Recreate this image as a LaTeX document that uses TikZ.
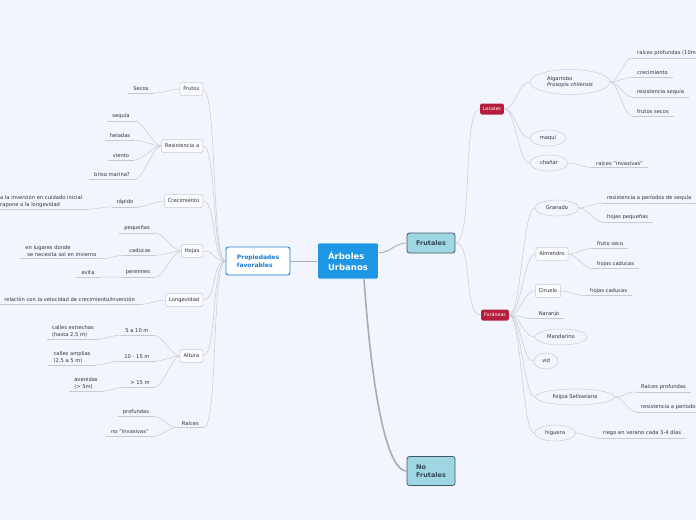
\documentclass[tikz,border=0pt]{standalone}
\usepackage{fontspec}
\setmainfont{DejaVu Sans}
\usetikzlibrary{shapes.geometric}
\definecolor{bgc}{HTML}{F3F5FE}
\definecolor{rootc}{HTML}{1E96E6}
\definecolor{propc}{HTML}{1C7BD8}
\definecolor{frc}{HTML}{9ED6E3}
\definecolor{frd}{HTML}{3E5866}
\definecolor{catc}{HTML}{B51E3A}
\definecolor{linec}{HTML}{C9C9CE}
\definecolor{trunkc}{HTML}{ABABAF}
\definecolor{txtc}{HTML}{333333}
\definecolor{subd}{HTML}{CACAD2}

\begin{document}
\begin{tikzpicture}[x=1pt, y=-1pt,
    root/.style={fill=rootc, draw=white, line width=0.6pt, rounded corners=2pt, text=white,
                 font=\fontsize{8.5}{10.5}\selectfont\bfseries, align=left,
                 minimum width=61pt, minimum height=36pt},
    prop/.style={fill=white, draw=propc, line width=0.9pt, rounded corners=2.5pt, text=propc,
                 font=\fontsize{6}{8}\selectfont\bfseries, align=left,
                 minimum width=64pt, minimum height=28pt},
    frbox/.style={fill=frc, draw=frd, line width=0.8pt, rounded corners=2.5pt, text=frd!80!black,
                 font=\fontsize{6.5}{8.5}\selectfont\bfseries, align=left,
                 minimum width=48pt, minimum height=20pt},
    cat/.style={fill=catc, rounded corners=1.5pt, text=white, font=\fontsize{4.8}{5}\selectfont,
                minimum height=11pt, inner xsep=3pt, inner ysep=1pt},
    sub/.style={fill=white!60!bgc, draw=subd, line width=0.5pt, rounded corners=1.5pt, text=txtc,
                font=\fontsize{5.2}{6}\selectfont, minimum height=13pt, inner xsep=3.5pt},
    fruit/.style={ellipse, draw=subd, line width=0.5pt, fill=bgc, text=txtc, align=left,
                  font=\fontsize{5.2}{6.5}\selectfont, inner sep=0pt, minimum height=16pt},
    conn/.style={draw=linec, line width=0.5pt},
    trunk/.style={draw=trunkc, line width=0.9pt},
    leaf/.style={text=txtc, font=\fontsize{5.2}{7}\selectfont, align=left, inner xsep=5pt, inner ysep=2pt,
                 append after command={(\tikzlastnode.south west) edge[conn] (\tikzlastnode.south east)}},
    lk/.style={to path={.. controls +(-#1,0) and +(#1,0) .. (\tikztotarget)}},
    lk/.default=8,
    rk/.style={to path={.. controls +(#1,0) and +(-#1,0) .. (\tikztotarget)}},
    rk/.default=8]
  \path[use as bounding box, fill=bgc] (0,0) rectangle (696,520);

  \node[root] (root) at (348,261) {Árboles\\Urbanos};
  \node[prop] (prop) at (258,261) {Propiedades\\favorables};
  \node[frbox] (frut) at (431,243) {Frutales};
  \node[frbox, minimum height=29pt] (nofr) at (431,471) {No\\Frutales};

  \node[sub, anchor=east] (frutos) at (203,89) {Frutos};
  \node[sub, anchor=east] (resist) at (203,146) {Resistencia a};
  \node[sub, anchor=east] (crec) at (203,201) {Crecimiento};
  \node[sub, anchor=east] (hojas) at (203,251) {Hojas};
  \node[sub, anchor=east] (longev) at (203,300) {Longevidad};
  \node[sub, anchor=east] (altura) at (203,356) {Altura};
  \node[leaf, anchor=east] (raices) at (204,423) {Raíces};

  \node[leaf] (secos) at (141,89) {Secos};
  \node[leaf] (sequia) at (121,116) {sequía};
  \node[leaf] (heladas) at (120,136) {heladas};
  \node[leaf] (viento) at (121,156) {viento};
  \node[leaf] (brisa) at (112,175) {brisa marina?};
  \node[leaf] (rapido) at (125,202) {rápido};
  \node[leaf, anchor=west] (invers) at (-5,201) {a la inversión en cuidado inicial\\rapone a la longevidad};
  \node[leaf] (peq) at (137,228) {pequeñas};
  \node[leaf] (cad) at (140,251) {caducas};
  \node[leaf] (per) at (138,273) {perennes};
  \node[leaf] (sol) at (61,251) {en lugares donde\\\hspace*{2pt}se necesita sol en invierno};
  \node[leaf] (evita) at (88,273) {evita};
  \node[leaf, anchor=east] (reltxt) at (140,300) {relación con la velocidad de crecimiento/inversión};
  \node[leaf] (cinco) at (137,331) {5 a 10 m};
  \node[leaf] (diez) at (137,357) {10 - 15 m};
  \node[leaf] (quince) at (140,383) {> 15 m};
  \node[leaf] (estre) at (73,331) {calles estrechas\\(hasta 2,5 m)};
  \node[leaf] (ampl) at (72,357) {calles amplias\\(2,5 a 5 m)};
  \node[leaf] (aven) at (86,383) {avenidas\\(> 5m)};
  \node[leaf] (prof) at (136,412) {profundas};
  \node[leaf] (noinv) at (130,432) {no "invasivas"};

  \node[cat] (loc) at (492,109) {Locales};
  \node[cat] (foran) at (495,315) {Foráneas};
  \node[fruit, minimum width=80pt, minimum height=25pt] (algar) at (570,82) {Algarrobo\\\textit{Prosopis chilensis}};
  \node[fruit, minimum width=36pt] (maqui) at (548,138) {maqui};
  \node[fruit, minimum width=38pt] (chanar) at (549,163) {chañar};
  \node[leaf, anchor=west] (alg1) at (632,53) {raíces profundas (10m)};
  \node[leaf, anchor=west] (alg2) at (632,73) {crecimiento};
  \node[leaf, anchor=west] (alg3) at (632,92) {resistencia sequía};
  \node[leaf, anchor=west] (alg4) at (632,112) {frutos secos};
  \node[leaf, anchor=west] (chan1) at (591,163) {raíces "invasivas"};

  \node[fruit, minimum width=44pt] (gran) at (557,208) {Granado};
  \node[sub] (almen) at (552,254) {Almendro};
  \node[sub] (cirue) at (548,291) {Ciruelo};
  \node[leaf] (naran) at (549,314) {Naranjo};
  \node[fruit, minimum width=52pt] (mandar) at (561,337) {Mandarino};
  \node[fruit, minimum width=24pt] (vid) at (546,361) {vid};
  \node[fruit, minimum width=79pt] (feijoa) at (575,397) {Feijoa Sellowiana};
  \node[fruit, minimum width=41pt] (higuera) at (555,433) {higuera};
  \node[leaf, anchor=west] (gran1) at (602,198) {resistencia a períodos de sequía};
  \node[leaf, anchor=west] (gran2) at (602,217) {hojas pequeñas};
  \node[leaf, anchor=west] (alm1) at (592,244) {fruto seco};
  \node[leaf, anchor=west] (alm2) at (592,264) {hojas caducas};
  \node[leaf, anchor=west] (cir1) at (585,291) {hojas caducas};
  \node[leaf, anchor=west] (fei1) at (636,387) {Raíces profundas};
  \node[leaf, anchor=west] (fei2) at (636,407) {resistencia a períodos de sequía};
  \node[leaf, anchor=west] (hig1) at (598,433) {riego en verano cada 3-4 días};

  \draw[trunk] (root.west) -- (prop.east);
  \draw[trunk] (root.15) .. controls +(12,0) and +(-12,0) .. (frut.west);
  \draw[trunk, line width=1.6pt] ([xshift=16pt]root.south) .. controls +(10,140) and +(-16,0) .. (nofr.west);

  \draw[conn, lk=14] (prop.west) to (frutos.east); \draw[conn, lk=14] (prop.west) to (resist.east);
  \draw[conn, lk=14] (prop.west) to (crec.east); \draw[conn, lk=14] (prop.west) to (hojas.east);
  \draw[conn, lk=14] (prop.west) to (longev.east); \draw[conn, lk=14] (prop.west) to (altura.east);
  \draw[conn, lk=14] (prop.west) to (raices.south east);

  \draw[conn, lk] (frutos.west) to (secos.south east);
  \draw[conn, lk] (resist.west) to (sequia.south east); \draw[conn, lk] (resist.west) to (heladas.south east);
  \draw[conn, lk] (resist.west) to (viento.south east); \draw[conn, lk] (resist.west) to (brisa.south east);
  \draw[conn, lk] (crec.west) to (rapido.south east); \draw[conn, lk] (rapido.south west) to (invers.south east);
  \draw[conn, lk] (hojas.west) to (peq.south east); \draw[conn, lk] (hojas.west) to (cad.south east);
  \draw[conn, lk] (hojas.west) to (per.south east);
  \draw[conn, lk] (cad.south west) to (sol.south east); \draw[conn, lk] (per.south west) to (evita.south east);
  \draw[conn, lk] (longev.west) to (reltxt.south east);
  \draw[conn, lk] (altura.west) to (cinco.south east); \draw[conn, lk] (altura.west) to (diez.south east);
  \draw[conn, lk] (altura.west) to (quince.south east);
  \draw[conn, lk] (cinco.south west) to (estre.south east); \draw[conn, lk] (diez.south west) to (ampl.south east);
  \draw[conn, lk] (quince.south west) to (aven.south east);
  \draw[conn, lk] (raices.south west) to (prof.south east); \draw[conn, lk] (raices.south west) to (noinv.south east);

  \draw[conn, rk=18] (frut.east) to (loc.west); \draw[conn, rk=18] (frut.east) to (foran.west);
  \draw[conn, rk=12] (loc.east) to (algar.west); \draw[conn, rk=12] (loc.east) to (maqui.west);
  \draw[conn, rk=12] (loc.east) to (chanar.west);
  \draw[conn, rk] (algar.east) to (alg1.south west); \draw[conn, rk] (algar.east) to (alg2.south west);
  \draw[conn, rk] (algar.east) to (alg3.south west); \draw[conn, rk] (algar.east) to (alg4.south west);
  \draw[conn, rk] (chanar.east) to (chan1.south west);
  \draw[conn, rk=12] (foran.east) to (gran.west); \draw[conn, rk=12] (foran.east) to (almen.west);
  \draw[conn, rk=12] (foran.east) to (cirue.west); \draw[conn, rk=12] (foran.east) to (naran.south west);
  \draw[conn, rk=12] (foran.east) to (mandar.west); \draw[conn, rk=12] (foran.east) to (vid.west);
  \draw[conn, rk=12] (foran.east) to (feijoa.west); \draw[conn, rk=12] (foran.east) to (higuera.west);
  \draw[conn, rk] (gran.east) to (gran1.south west); \draw[conn, rk] (gran.east) to (gran2.south west);
  \draw[conn, rk] (almen.east) to (alm1.south west); \draw[conn, rk] (almen.east) to (alm2.south west);
  \draw[conn, rk] (cirue.east) to (cir1.south west);
  \draw[conn, rk] (feijoa.east) to (fei1.south west); \draw[conn, rk] (feijoa.east) to (fei2.south west);
  \draw[conn, rk] (higuera.east) to (hig1.south west);
\end{tikzpicture}
\end{document}
